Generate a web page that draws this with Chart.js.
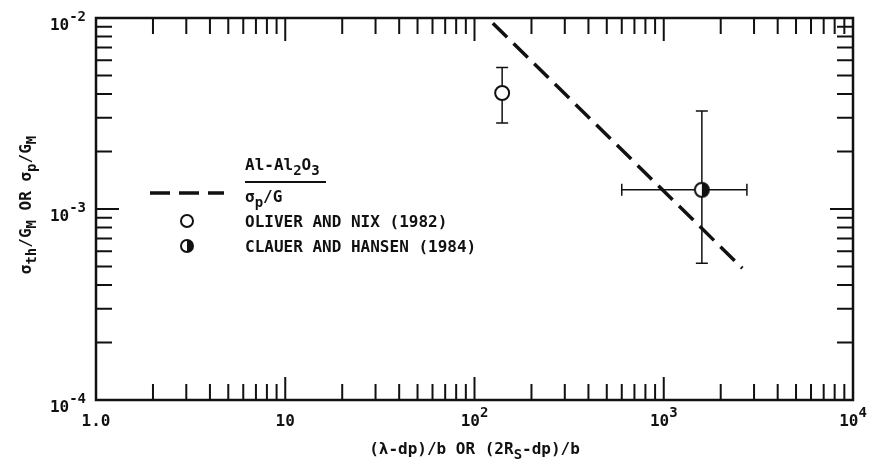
<!DOCTYPE html>
<html>
<head>
<meta charset="utf-8">
<script src="https://cdn.jsdelivr.net/npm/chart.js@4"></script>
<style>
  html, body { margin: 0; padding: 0; background: #fff; }
  #wrap { width: 875px; height: 467px; position: relative; }
</style>
</head>
<body>
<div id="wrap"><canvas id="chart"></canvas></div>
<script>
// ── Data ──────────────────────────────────────────────────────────────────────
const xTicks      = [1, 10, 100, 1000, 10000];
const xTickLabels = [['1.0', ''], ['10', ''], ['10', '2'], ['10', '3'], ['10', '4']];
const yTicks      = [1e-4, 1e-3, 1e-2];
const yTickLabels = [['10', '-4'], ['10', '-3'], ['10', '-2']];

// Al-Al2O3 sigma_p/G prediction (dashed)
const fitX = [125, 2600];
const fitY = [0.0094, 0.00049];

// Oliver and Nix (1982)
const oliverX     = [140];
const oliverY     = [0.00405];
const oliverYLow  = [0.00282];
const oliverYHigh = [0.0055];

// Clauer and Hansen (1984)
const clauerX     = [1590];
const clauerY     = [0.00126];
const clauerXLow  = [600];
const clauerXHigh = [2750];
const clauerYLow  = [0.00052];
const clauerYHigh = [0.00326];

const FONT = '"DejaVu Sans Mono", "Liberation Mono", monospace';
const INK  = '#111';

// ── Marker helpers ────────────────────────────────────────────────────────────
function drawHalfCircle(ctx, x, y, r) {
  ctx.save();
  ctx.beginPath();
  ctx.arc(x, y, r, 0, Math.PI * 2);
  ctx.fillStyle = '#fff';
  ctx.fill();
  ctx.beginPath();
  ctx.arc(x, y, r, -Math.PI / 2, Math.PI / 2);
  ctx.closePath();
  ctx.fillStyle = INK;
  ctx.fill();
  ctx.beginPath();
  ctx.arc(x, y, r, 0, Math.PI * 2);
  ctx.lineWidth = 2;
  ctx.strokeStyle = INK;
  ctx.stroke();
  ctx.restore();
}

function drawOpenCircle(ctx, x, y, r) {
  ctx.save();
  ctx.beginPath();
  ctx.arc(x, y, r, 0, Math.PI * 2);
  ctx.fillStyle = '#fff';
  ctx.fill();
  ctx.lineWidth = 2;
  ctx.strokeStyle = INK;
  ctx.stroke();
  ctx.restore();
}

const halfMarker = document.createElement('canvas');
halfMarker.width = 18;
halfMarker.height = 18;
drawHalfCircle(halfMarker.getContext('2d'), 9, 9, 7);

// ── Rich text (sub / superscripts) ────────────────────────────────────────────
// parts: [[text, kind]] where kind is '', 'sub' or 'sup'
function partFont(kind, size) {
  return 'bold ' + (kind ? Math.round(size * 0.88) : size) + 'px ' + FONT;
}
function richWidth(ctx, parts, size) {
  let w = 0;
  parts.forEach(([t, kind]) => { ctx.font = partFont(kind, size); w += ctx.measureText(t).width; });
  return w;
}
function drawRich(ctx, parts, x, y, size, align) {
  const w = richWidth(ctx, parts, size);
  let cx = align === 'center' ? x - w / 2 : align === 'right' ? x - w : x;
  ctx.textBaseline = 'alphabetic';
  ctx.textAlign = 'left';
  parts.forEach(([t, kind]) => {
    ctx.font = partFont(kind, size);
    const dy = kind === 'sub' ? 5 : kind === 'sup' ? -9 : 0;
    ctx.fillText(t, cx, y + dy);
    cx += ctx.measureText(t).width;
  });
}

// ── Decorations: frame, inner ticks, labels, titles, legend, error bars ───────
const decorPlugin = {
  id: 'decor',
  beforeDatasetsDraw(chart) {
    const { ctx, scales: { x, y } } = chart;
    ctx.save();
    ctx.strokeStyle = INK;
    ctx.lineWidth = 1.5;
    const cap = 6;
    const vbar = (xv, lo, hi) => {
      const px = x.getPixelForValue(xv);
      const p1 = y.getPixelForValue(lo), p2 = y.getPixelForValue(hi);
      ctx.beginPath();
      ctx.moveTo(px, p1); ctx.lineTo(px, p2);
      ctx.moveTo(px - cap, p1); ctx.lineTo(px + cap, p1);
      ctx.moveTo(px - cap, p2); ctx.lineTo(px + cap, p2);
      ctx.stroke();
    };
    const hbar = (yv, lo, hi) => {
      const py = y.getPixelForValue(yv);
      const p1 = x.getPixelForValue(lo), p2 = x.getPixelForValue(hi);
      ctx.beginPath();
      ctx.moveTo(p1, py); ctx.lineTo(p2, py);
      ctx.moveTo(p1, py - cap); ctx.lineTo(p1, py + cap);
      ctx.moveTo(p2, py - cap); ctx.lineTo(p2, py + cap);
      ctx.stroke();
    };
    oliverX.forEach((xv, i) => vbar(xv, oliverYLow[i], oliverYHigh[i]));
    clauerX.forEach((xv, i) => {
      vbar(xv, clauerYLow[i], clauerYHigh[i]);
      hbar(clauerY[i], clauerXLow[i], clauerXHigh[i]);
    });
    ctx.restore();
  },
  afterDraw(chart) {
    const { ctx, chartArea: a, scales: { x, y } } = chart;
    ctx.save();
    ctx.strokeStyle = INK;
    ctx.fillStyle = INK;

    // frame
    ctx.lineWidth = 2.5;
    ctx.strokeRect(a.left, a.top, a.right - a.left, a.bottom - a.top);

    // inner ticks on all four sides
    ctx.lineWidth = 2;
    const MAJOR = 23, MINOR = 16;
    ctx.beginPath();
    for (let e = 0; e < 4; e++) {
      for (let k = 1; k <= 9; k++) {
        const px = x.getPixelForValue(k * Math.pow(10, e));
        const len = k === 1 ? MAJOR : MINOR;
        ctx.moveTo(px, a.bottom); ctx.lineTo(px, a.bottom - len);
        ctx.moveTo(px, a.top);    ctx.lineTo(px, a.top + len);
      }
    }
    for (let e = -4; e < -2; e++) {
      for (let k = 1; k <= 9; k++) {
        const py = y.getPixelForValue(k * Math.pow(10, e));
        const len = k === 1 ? MAJOR : MINOR;
        ctx.moveTo(a.left, py);  ctx.lineTo(a.left + len, py);
        ctx.moveTo(a.right, py); ctx.lineTo(a.right - len, py);
      }
    }
    ctx.stroke();

    // tick labels
    xTicks.forEach((v, i) => {
      const [base, sup] = xTickLabels[i];
      drawRich(ctx, [[base, ''], [sup, 'sup']], x.getPixelForValue(v), a.bottom + 26, 16, 'center');
    });
    yTicks.forEach((v, i) => {
      const [base, sup] = yTickLabels[i];
      drawRich(ctx, [[base, ''], [sup, 'sup']], a.left - 10, y.getPixelForValue(v) + 12, 16, 'right');
    });

    // axis titles
    drawRich(ctx, [['(λ-dp)/b OR (2R', ''], ['S', 'sub'], ['-dp)/b', '']],
      (a.left + a.right) / 2, 454, 16, 'center');

    ctx.save();
    ctx.translate(31, 205);
    ctx.rotate(-Math.PI / 2);
    drawRich(ctx, [['σ', ''], ['th', 'sub'], ['/G', ''], ['M', 'sub'], [' OR σ', ''], ['p', 'sub'], ['/G', ''], ['M', 'sub']],
      0, 0, 16, 'center');
    ctx.restore();

    // legend
    ctx.lineWidth = 3.5;
    ctx.setLineDash([20, 9]);
    ctx.beginPath();
    ctx.moveTo(150, 193); ctx.lineTo(224, 193);
    ctx.stroke();
    ctx.setLineDash([]);

    drawRich(ctx, [['Al-Al', ''], ['2', 'sub'], ['O', ''], ['3', 'sub']], 245, 170, 16, 'left');
    ctx.lineWidth = 2;
    ctx.beginPath();
    ctx.moveTo(245, 182); ctx.lineTo(326, 182);
    ctx.stroke();
    drawRich(ctx, [['σ', ''], ['p', 'sub'], ['/G', '']], 245, 202, 16, 'left');

    drawOpenCircle(ctx, 187, 221, 6);
    drawRich(ctx, [['OLIVER AND NIX (1982)', '']], 245, 227, 16, 'left');
    drawHalfCircle(ctx, 187, 246, 6);
    drawRich(ctx, [['CLAUER AND HANSEN (1984)', '']], 245, 252, 16, 'left');

    ctx.restore();
  }
};

// ── Chart ─────────────────────────────────────────────────────────────────────
new Chart(document.getElementById('chart'), {
  type: 'scatter',
  data: {
    datasets: [
      {
        label: 'Al-Al2O3 σp/G',
        data: fitX.map((v, i) => ({ x: v, y: fitY[i] })),
        showLine: true,
        borderColor: INK,
        borderWidth: 3.5,
        borderDash: [20, 9],
        pointRadius: 0,
        fill: false,
      },
      {
        label: 'OLIVER AND NIX (1982)',
        data: oliverX.map((v, i) => ({ x: v, y: oliverY[i] })),
        pointStyle: 'circle',
        pointRadius: 7,
        pointBorderWidth: 2,
        pointBackgroundColor: '#fff',
        pointBorderColor: INK,
      },
      {
        label: 'CLAUER AND HANSEN (1984)',
        data: clauerX.map((v, i) => ({ x: v, y: clauerY[i] })),
        pointStyle: halfMarker,
        pointRadius: 7,
      },
    ]
  },
  options: {
    responsive: true,
    maintainAspectRatio: false,
    animation: false,
    layout: { padding: { left: 96, top: 18, right: 22, bottom: 67 } },
    plugins: {
      legend: { display: false },
      tooltip: { enabled: false },
    },
    scales: {
      x: { type: 'logarithmic', min: 1, max: 10000, display: false },
      y: { type: 'logarithmic', min: 1e-4, max: 1e-2, display: false },
    }
  },
  plugins: [decorPlugin]
});
</script>
</body>
</html>
